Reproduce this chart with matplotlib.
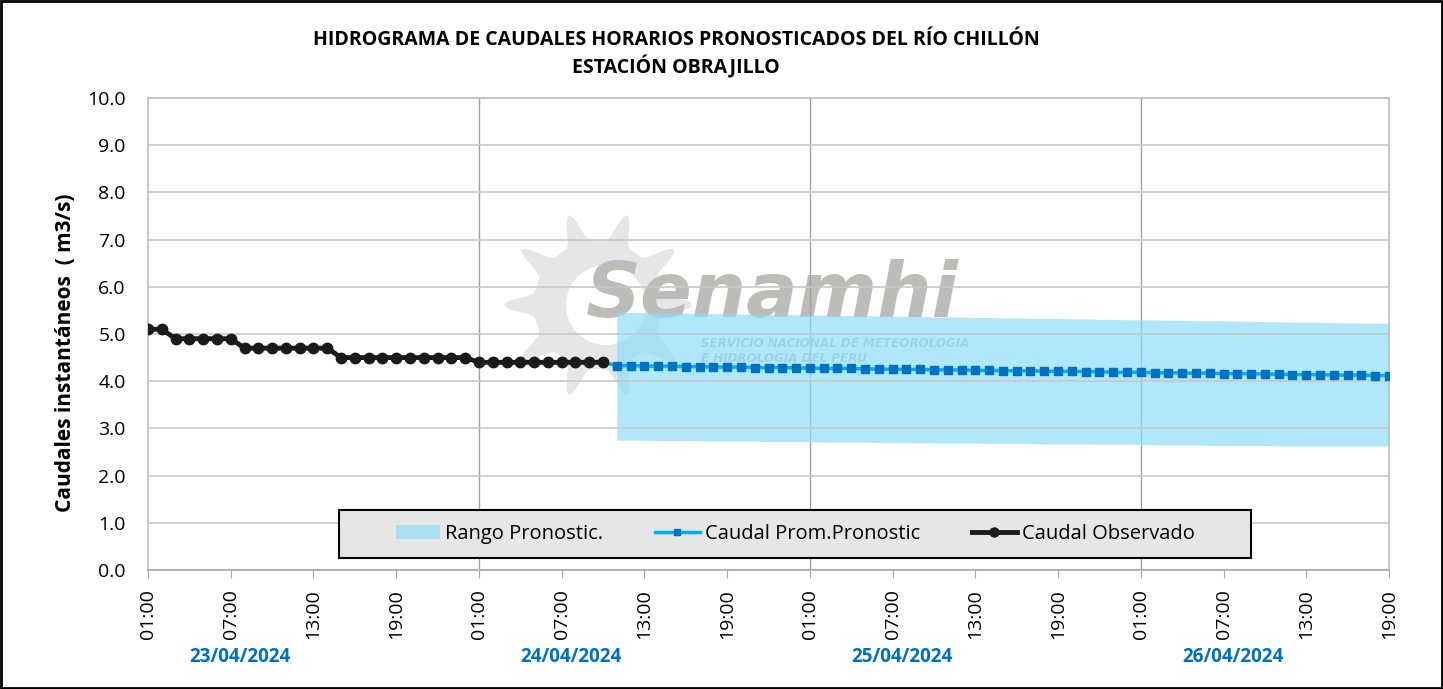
"""
Hidrograma de caudales horarios pronosticados - Río Chillón, estación Obrajillo.
"""
import numpy as np
import matplotlib
matplotlib.use("Agg")
import matplotlib.pyplot as plt
from matplotlib.patches import Rectangle, Patch, Polygon, Ellipse
from matplotlib.lines import Line2D
import matplotlib.transforms as mtransforms

# ---------------------------------------------------------------------------
# Data (hour index 0 = 23/04/2024 01:00)
# ---------------------------------------------------------------------------
obs_hours = list(range(0, 34))
obs_values = [5.1, 5.1,
              4.9, 4.9, 4.9, 4.9, 4.9,
              4.7, 4.7, 4.7, 4.7, 4.7, 4.7, 4.7,
              4.5, 4.5, 4.5, 4.5, 4.5, 4.5, 4.5, 4.5, 4.5, 4.5,
              4.4, 4.4, 4.4, 4.4, 4.4, 4.4, 4.4, 4.4, 4.4, 4.4]

fc_hours = list(range(34, 91))
fc_mean = [4.33, 4.33, 4.32, 4.32, 4.32, 4.31, 4.31, 4.30, 4.30, 4.30,
           4.29, 4.29, 4.29, 4.28, 4.28, 4.27, 4.27, 4.27, 4.26, 4.26,
           4.25, 4.25, 4.25, 4.24, 4.24, 4.24, 4.23, 4.23, 4.22, 4.22,
           4.22, 4.21, 4.21, 4.21, 4.20, 4.20, 4.19, 4.19, 4.19, 4.18,
           4.18, 4.17, 4.17, 4.17, 4.16, 4.16, 4.16, 4.15, 4.15, 4.14,
           4.14, 4.14, 4.13, 4.13, 4.13, 4.12, 4.12]
fc_upper = [5.46, 5.46, 5.45, 5.45, 5.44, 5.44, 5.44, 5.43, 5.43, 5.42,
            5.42, 5.41, 5.41, 5.41, 5.40, 5.40, 5.39, 5.39, 5.39, 5.38,
            5.38, 5.37, 5.37, 5.36, 5.36, 5.36, 5.35, 5.35, 5.34, 5.34,
            5.33, 5.33, 5.33, 5.32, 5.32, 5.31, 5.31, 5.30, 5.30, 5.30,
            5.29, 5.29, 5.28, 5.28, 5.28, 5.27, 5.27, 5.26, 5.26, 5.25,
            5.25, 5.25, 5.24, 5.24, 5.23, 5.23, 5.23]
fc_lower = [2.75, 2.75, 2.75, 2.74, 2.74, 2.74, 2.74, 2.73, 2.73, 2.73,
            2.73, 2.72, 2.72, 2.72, 2.72, 2.71, 2.71, 2.71, 2.71, 2.70,
            2.70, 2.70, 2.70, 2.69, 2.69, 2.69, 2.69, 2.68, 2.68, 2.68,
            2.68, 2.67, 2.67, 2.67, 2.67, 2.66, 2.66, 2.66, 2.66, 2.65,
            2.65, 2.65, 2.65, 2.64, 2.64, 2.64, 2.64, 2.64, 2.63, 2.63,
            2.63, 2.63, 2.63, 2.63, 2.63, 2.63, 2.63]

tick_hours = list(range(0, 91, 6))
tick_labels = ["01:00", "07:00", "13:00", "19:00"] * 4
tick_labels = tick_labels[:len(tick_hours)]
day_starts = [0, 24, 48, 72]
day_labels = ["23/04/2024", "24/04/2024", "25/04/2024", "26/04/2024"]

# ---------------------------------------------------------------------------
# Style
# ---------------------------------------------------------------------------
plt.rcParams["font.family"] = ["Open Sans", "DejaVu Sans"]
FILL_C = "#8FDDF8"
MEAN_LINE = "#00B0F0"
MEAN_MARK = "#0070C0"
OBS_C = "#1A1A1A"
DATE_C = "#0070C0"
WM_C = "#BDBCB8"

AX_W, AX_H = 1241, 472          # axes size in pixels
fig = plt.figure(figsize=(14.43, 6.89), dpi=100)
ax = fig.add_axes([148 / 1443, 1 - 570 / 689, AX_W / 1443, AX_H / 689])

# ---------------------------------------------------------------------------
# Watermark (Senamhi logo, approximated)
# ---------------------------------------------------------------------------
cx, cy = (598 - 148) / AX_W, (570 - 305) / AX_H
ang = np.linspace(0, 2 * np.pi, 720)
petal = (0.5 + 0.5 * np.cos(10 * (ang + 0.10 * np.sin(10 * ang)))) ** 0.9
rad = 64 + 30 * petal
ax.add_patch(Polygon(np.column_stack([cx + rad * np.cos(ang) / AX_W,
                                      cy + rad * np.sin(ang) / AX_H]),
                     closed=True, transform=ax.transAxes,
                     facecolor="#E6E6E6", edgecolor="none", zorder=0.5))
ax.add_patch(Ellipse((cx + 8 / AX_W, cy), 2 * 40 / AX_W, 2 * 40 / AX_H,
                     transform=ax.transAxes, facecolor="white",
                     edgecolor="none", zorder=0.55))
ax.text(45.3, 5.80, "Senamhi", fontsize=55, fontweight="bold", style="italic",
        color=WM_C, ha="center", va="center", zorder=0.6,
        family=["DejaVu Sans"])
ax.text(40.1, 4.64, "SERVICIO NACIONAL DE METEOROLOGIA\nE HIDROLOGIA DEL PERU",
        fontsize=8.6, fontweight="bold", style="italic", color=WM_C,
        ha="left", va="center", linespacing=1.15, zorder=0.6,
        family=["DejaVu Sans"])

# ---------------------------------------------------------------------------
# Series
# ---------------------------------------------------------------------------
ax.fill_between(fc_hours, fc_lower, fc_upper, color=FILL_C, alpha=0.7,
                linewidth=0, zorder=1)

# forecast mean (joined to last observation)
ax.plot([obs_hours[-1]] + fc_hours, [obs_values[-1]] + fc_mean, color=MEAN_LINE,
        lw=2.5, zorder=3)
ax.plot(fc_hours, fc_mean, linestyle="none", marker="s", ms=5.5,
        color=MEAN_MARK, zorder=4)

ax.plot(obs_hours, obs_values, color=OBS_C, lw=3.5, marker="o", ms=7.5, zorder=5)

# ---------------------------------------------------------------------------
# Axes
# ---------------------------------------------------------------------------
ax.set_xlim(0, 90)
ax.set_ylim(0, 10)
yt = np.arange(0, 10.01, 1.0)
ax.set_yticks(yt)
ax.set_yticklabels([f"{v:.1f}" for v in yt], fontsize=14)
ax.set_xticks(tick_hours)
ax.set_xticklabels(tick_labels, rotation=90, fontsize=14)
ax.tick_params(axis="x", length=6, color="#A6A6A6", pad=8)
ax.tick_params(axis="y", length=0, pad=16)
ax.yaxis.grid(True, color="#C8C8C8", lw=1.2, zorder=0)
for d in day_starts[1:]:
    ax.axvline(d, color="#A0A0A0", lw=1.0, zorder=0.8)
for s in ax.spines.values():
    s.set_color("#BFBFBF")
    s.set_linewidth(1.2)
ax.spines["bottom"].set_color("#A6A6A6")

ax.set_ylabel("Caudales instantáneos  ( m3/s)", fontsize=15, fontweight="bold")
ax.yaxis.set_label_coords(-72 / AX_W, (570 - 353) / AX_H)

# date labels under the axis
trans = mtransforms.blended_transform_factory(ax.transData, ax.transAxes)
for d, lab in zip(day_starts, day_labels):
    ax.text(d + 6.7, -0.184, lab, transform=trans, ha="center", va="center",
            fontsize=13.5, fontweight="bold", color=DATE_C)

# title
fig.text(676 / 1443, 1 - 40 / 689,
         "HIDROGRAMA DE CAUDALES HORARIOS PRONOSTICADOS DEL RÍO CHILLÓN",
         ha="center", va="center", fontsize=14, fontweight="bold")
fig.text(676 / 1443, 1 - 67 / 689, "ESTACIÓN OBRAJILLO",
         ha="center", va="center", fontsize=14, fontweight="bold")

# ---------------------------------------------------------------------------
# Legend (grey box drawn separately so the items stay centred)
# ---------------------------------------------------------------------------
ax.add_patch(Rectangle(((339 - 148) / AX_W, (570 - 558) / AX_H),
                       (1251 - 339) / AX_W, 48 / AX_H, transform=ax.transAxes,
                       facecolor="#E6E6E6", edgecolor="black", lw=1.5,
                       zorder=9))
handles = [
    Patch(facecolor=FILL_C, alpha=0.7, edgecolor="none"),
    Line2D([], [], color=MEAN_LINE, lw=2.5, marker="s", ms=5, mfc=MEAN_MARK,
           mec=MEAN_MARK),
    Line2D([], [], color=OBS_C, lw=3.5, marker="o", ms=6.5),
]
leg = ax.legend(handles, ["Rango Pronostic.", "Caudal Prom.Pronostic",
                          "Caudal Observado"],
                loc="center", bbox_to_anchor=((795 - 148) / AX_W, (570 - 534) / AX_H),
                ncol=3, fontsize=14.5, frameon=False,
                handlelength=2.2, handletextpad=0.25, columnspacing=2.6,
                borderaxespad=0)
leg.set_zorder(10)

# outer border
fig.patches.append(Rectangle((0.001, 0.001), 0.998, 0.997,
                             transform=fig.transFigure, fill=False,
                             edgecolor="black", lw=2))

fig.savefig("out.png", dpi=100)
